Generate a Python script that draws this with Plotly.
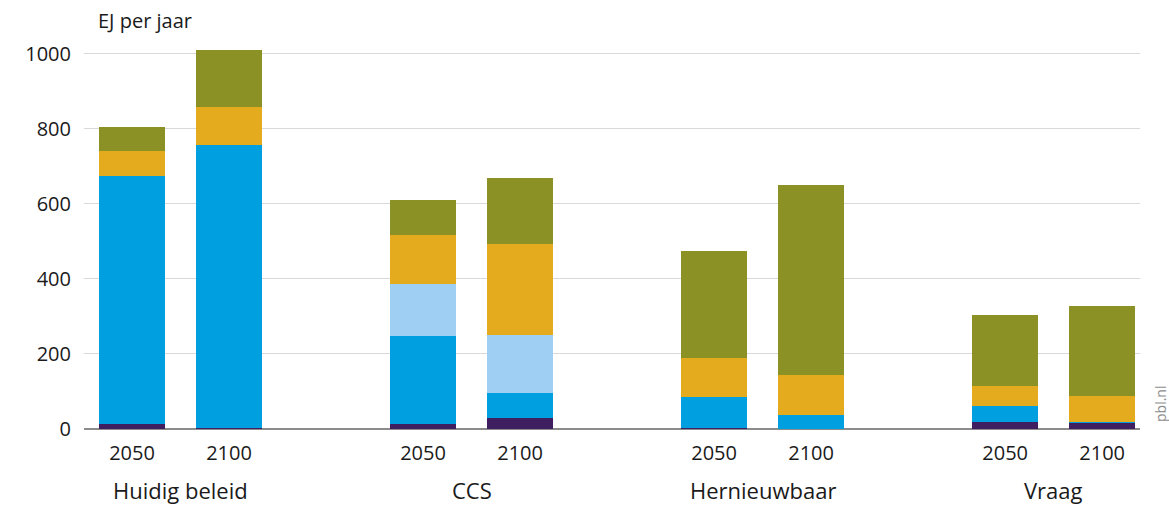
import plotly.graph_objects as go

groups = ["Huidig beleid", "CCS", "Hernieuwbaar", "Vraag"]
years = ["2050", "2100"]

# values per bar: order = group0-2050, group0-2100, group1-2050, ...
purple = [13, 3, 13, 29, 4, 1, 19, 16]
blue = [662, 754, 235, 67, 81, 36, 42, 2]
lightblue = [0, 0, 139, 155, 0, 0, 0, 0]
yellow = [66, 102, 130, 242, 104, 107, 54, 70]
olive = [64, 152, 94, 176, 286, 507, 189, 240]

series = [
    ("purple", purple, "#3f1f5f"),
    ("blue", blue, "#009fe0"),
    ("lightblue", lightblue, "#9fcff2"),
    ("yellow", yellow, "#e5ab1f"),
    ("olive", olive, "#8c9125"),
]

xpos = []
xtext = []
for g in range(len(groups)):
    for j, yr in enumerate(years):
        xpos.append(3 * g + j)
        xtext.append(yr)

fig = go.Figure()
for name, vals, col in series:
    fig.add_trace(go.Bar(x=xpos, y=vals, name=name, marker_color=col,
                         marker_line_width=0, width=0.68, showlegend=False))

font = "'Open Sans', sans-serif"
fig.update_layout(
    barmode="stack",
    width=1169, height=505,
    margin=dict(l=84, r=29, t=35, b=76, autoexpand=False),
    plot_bgcolor="white", paper_bgcolor="white",
    font=dict(family=font, size=20, color="#1a1a1a"),
    xaxis=dict(range=[-0.495, 10.39], tickvals=xpos, ticktext=xtext,
               showgrid=False, zeroline=False, showline=False, ticks="",
               automargin=False, ticklabelstandoff=10, tickfont=dict(size=20)),
    yaxis=dict(range=[0, 1050], tickvals=[0, 200, 400, 600, 800, 1000],
               showgrid=True, gridcolor="#d9d9d9", gridwidth=1,
               zeroline=True, zerolinecolor="#8c8c8c", zerolinewidth=1.5,
               showline=False, ticks="", ticklabelstandoff=12,
               automargin=False, tickfont=dict(size=20)),
)

for g, name in enumerate(groups):
    fig.add_annotation(x=3 * g + 0.5, y=0, xref="x", yref="paper",
                       text=name, showarrow=False, yanchor="middle",
                       yshift=-61, font=dict(size=22, family=font))

fig.add_annotation(x=0, y=1, xref="paper", yref="paper", text="EJ per jaar",
                   showarrow=False, xanchor="left", yanchor="middle",
                   xshift=12, yshift=15, font=dict(size=20, family=font))

fig.add_annotation(x=1, y=0, xref="paper", yref="paper", text="pbl.nl",
                   showarrow=False, textangle=-90, xanchor="center",
                   yanchor="bottom", xshift=20, yshift=5,
                   font=dict(size=14, color="#8c8c8c", family=font))

fig.write_html("out.html", config={"displayModeBar": False},
               post_script="document.body.style.margin='0';document.body.style.overflow='hidden';")
